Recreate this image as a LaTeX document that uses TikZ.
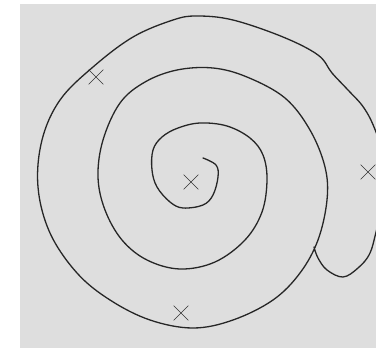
\documentclass[tikz,border=0pt]{standalone}
\usetikzlibrary{shapes.misc}
\begin{document}
\begin{tikzpicture}[x=1pt,y=-1pt,
  spiralline/.style={line width=1.3pt,black!85,line cap=round,line join=round},
  xmark/.style={cross out,draw=black!80,line width=0.7pt,minimum size=14pt,inner sep=0pt}]
\useasboundingbox (0,0) rectangle (376,354);
\fill[white] (0,0) rectangle (376,354);
\fill[black!13] (20,4) rectangle (376,348);
\begin{scope}
\clip (0,0) rectangle (376,354);
\draw[spiralline] plot[smooth,tension=0.6] coordinates {
 (203,158) (216,165) (218,177) (213,195) (203,205) (183,208) (170,202) (157,187)
 (152,170) (153,150) (162,137) (178,128) (200,123) (227,126) (250,138) (263,155)
 (267,180) (262,212) (245,240) (215,262) (180,269) (147,260) (122,240) (105,210)
 (98,177) (103,140) (120,103) (145,82) (177,70) (213,68) (247,77) (285,98)
 (310,130) (325,167) (327,200) (318,240) (300,273) (273,300) (233,320) (193,328)
 (150,320) (110,300) (77,273) (50,233) (38,187) (42,140) (60,100) (93,67)
 (133,37) (173,20) (197,16) (233,20) (283,37) (318,55) (332,73) (348,90)
 (364,108) (376,132) (392,180) (378,225) (370,253) (358,268) (343,277)
 (327,270) (318,258) (314,247)};
\end{scope}
\node[xmark] (xa) at (96,77) {};
\node[xmark] (xb) at (191,182) {};
\node[xmark] (xc) at (368,172) {};
\node[xmark] (xd) at (181,313) {};
\end{tikzpicture}
\end{document}
